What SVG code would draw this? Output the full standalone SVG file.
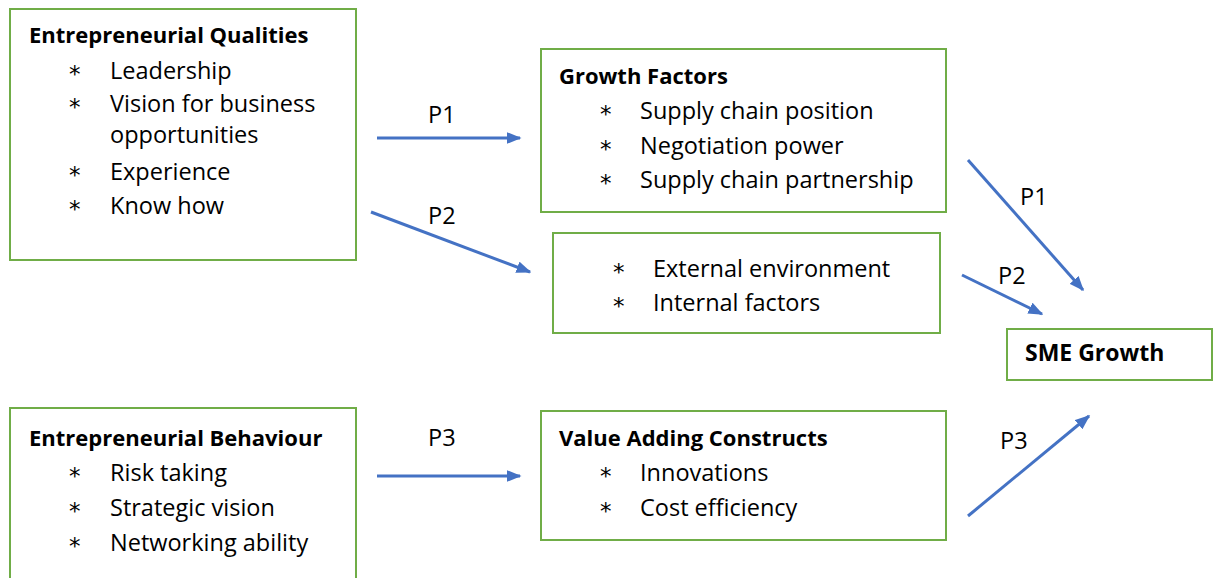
<svg xmlns="http://www.w3.org/2000/svg" width="1215" height="578" viewBox="0 0 1215 578">
<style>
.box{fill:#fff;stroke:#70AD47;stroke-width:2}
text{font-family:"Open Sans","Liberation Sans",sans-serif;font-size:23.5px;fill:#000}
.t{font-weight:bold;font-size:22px}
.b{font-family:"DejaVu Sans",sans-serif;font-size:23px}
.c{stroke:#4472C4;stroke-width:3;fill:none;marker-end:url(#ah)}
</style>
<defs>
<marker id="ah" markerWidth="5" markerHeight="4" refX="4.5" refY="2" orient="auto" markerUnits="strokeWidth">
<path d="M0,0 L5,2 L0,4 Z" fill="#4472C4"/>
</marker>
</defs>
<rect width="1215" height="578" fill="#fff"/>
<g id="eq">
<rect class="box" x="10" y="9" width="346" height="251"/>
<text class="t" x="29" y="43">Entrepreneurial Qualities</text>
<text class="b" x="69" y="82">*</text><text x="110" y="79">Leadership</text>
<text class="b" x="69" y="115">*</text><text x="110" y="112">Vision for business</text>
<text x="110" y="143">opportunities</text>
<text class="b" x="69" y="183">*</text><text x="110" y="180">Experience</text>
<text class="b" x="69" y="217">*</text><text x="110" y="214">Know how</text>
</g>
<g id="gf">
<rect class="box" x="541" y="49" width="405" height="163"/>
<text class="t" x="559" y="84">Growth Factors</text>
<text class="b" x="600" y="122">*</text><text x="640" y="119">Supply chain position</text>
<text class="b" x="600" y="157">*</text><text x="640" y="154">Negotiation power</text>
<text class="b" x="600" y="191">*</text><text x="640" y="188">Supply chain partnership</text>
</g>
<g id="env">
<rect class="box" x="553" y="233" width="387" height="100"/>
<text class="b" x="613" y="280">*</text><text x="653" y="277">External environment</text>
<text class="b" x="613" y="314">*</text><text x="653" y="311">Internal factors</text>
</g>
<g id="sme">
<rect class="box" x="1007" y="329" width="205" height="51"/>
<text class="t" x="1025" y="361" style="font-size:23px">SME Growth</text>
</g>
<g id="eb">
<rect class="box" x="10" y="408" width="346" height="180"/>
<text class="t" x="29" y="446">Entrepreneurial Behaviour</text>
<text class="b" x="69" y="484">*</text><text x="110" y="481">Risk taking</text>
<text class="b" x="69" y="519">*</text><text x="110" y="516">Strategic vision</text>
<text class="b" x="69" y="554">*</text><text x="110" y="551">Networking ability</text>
</g>
<g id="vac">
<rect class="box" x="541" y="411" width="405" height="129"/>
<text class="t" x="559" y="446">Value Adding Constructs</text>
<text class="b" x="600" y="484">*</text><text x="640" y="481">Innovations</text>
<text class="b" x="600" y="519">*</text><text x="640" y="516">Cost efficiency</text>
</g>
<g id="connectors">
<line class="c" x1="377" y1="138" x2="520" y2="138"/>
<line class="c" x1="371" y1="212" x2="530" y2="272"/>
<line class="c" x1="377" y1="476" x2="520" y2="476"/>
<line class="c" x1="968" y1="160" x2="1083" y2="290"/>
<line class="c" x1="962" y1="275" x2="1042" y2="314"/>
<line class="c" x1="968" y1="516" x2="1089" y2="416"/>
<text x="428" y="123">P1</text>
<text x="428" y="224">P2</text>
<text x="428" y="446">P3</text>
<text x="1020" y="205">P1</text>
<text x="998" y="284">P2</text>
<text x="1000" y="449">P3</text>
</g>
</svg>
